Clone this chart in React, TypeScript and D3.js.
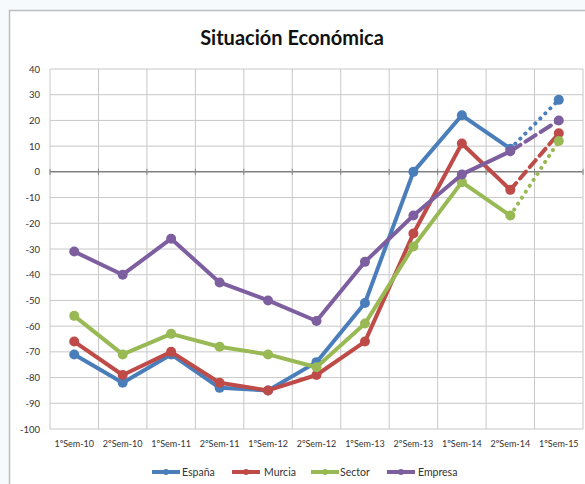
import { useMemo } from "react";
import { scaleBand, scaleLinear, line, range } from "d3";

const categories = [
  "1ºSem-10", "2ºSem-10", "1ºSem-11", "2ºSem-11", "1ºSem-12", "2ºSem-12",
  "1ºSem-13", "2ºSem-13", "1ºSem-14", "2ºSem-14", "1ºSem-15",
];

const espana = [-71, -82, -71, -84, -85, -74, -51, 0, 22, 9, 28];
const murcia = [-66, -79, -70, -82, -85, -79, -66, -24, 11, -7, 15];
const sector = [-56, -71, -63, -68, -71, -76, -59, -29, -4, -17, 12];
const empresa = [-31, -40, -26, -43, -50, -58, -35, -17, -1, 8, 20];

const yTicks = [40, 30, 20, 10, 0, -10, -20, -30, -40, -50, -60, -70, -80, -90, -100];

const series = [
  { name: "España", values: espana, color: "#4A7EBB", dash: "0.1 7" },
  { name: "Murcia", values: murcia, color: "#BE4B48", dash: "9 6" },
  { name: "Sector", values: sector, color: "#98B954", dash: "0.1 7" },
  { name: "Empresa", values: empresa, color: "#7D5FA0", dash: "12 6" },
];

const W = 585;
const H = 484;
const left = 50;
const right = 583;
const top = 69;
const bottom = 429;
const font = "Lato, 'Open Sans', 'DejaVu Sans', sans-serif";

export default function App() {
  const x = useMemo(() => scaleBand<string>().domain(categories).range([left, right]), []);
  const y = useMemo(() => scaleLinear().domain([-100, 40]).range([bottom, top]), []);
  const cx = (i: number) => (x(categories[i]) ?? 0) + x.bandwidth() / 2;

  const lineFn = line<number>()
    .x((_, i) => cx(i))
    .y((d) => y(d));

  const last = categories.length - 1;
  const legendItems = [
    { lx: 152, tx: 182 },
    { lx: 232, tx: 264 },
    { lx: 311, tx: 340 },
    { lx: 387, tx: 418 },
  ];

  return (
    <svg
      width={W}
      height={H}
      style={{ position: "fixed", left: 0, top: 0, background: "#f7fafd" }}
    >
      <rect x={9.5} y={10.5} width={W} height={H} fill="#fff" stroke="#bdbdbd" strokeWidth={1.5} />
      <text
        x={292}
        y={45}
        textAnchor="middle"
        fontFamily={font}
        fontWeight="bold"
        fontSize={20}
        fill="#111"
      >
        Situación Económica
      </text>

      {/* horizontal grid */}
      {yTicks.map((t) => (
        <g key={t}>
          <line
            x1={left}
            x2={right}
            y1={y(t)}
            y2={y(t)}
            stroke={t === 0 ? "#808080" : "#c8c8c8"}
            strokeWidth={t === 0 ? 1.5 : 1}
          />
          <text
            x={left - 10}
            y={y(t) + 3.5}
            textAnchor="end"
            fontFamily={font}
            fontSize={9.5}
            fill="#333"
          >
            {t}
          </text>
        </g>
      ))}

      {/* vertical grid */}
      {range(categories.length + 1).map((i) => {
        const vx = i < categories.length ? x(categories[i]) ?? 0 : right;
        return (
          <g key={i}>
            <line x1={vx} x2={vx} y1={top} y2={bottom} stroke="#c8c8c8" strokeWidth={1} />
            <line x1={vx} x2={vx} y1={y(0) - 3} y2={y(0) + 3} stroke="#808080" strokeWidth={1} />
          </g>
        );
      })}

      {categories.map((c, i) => (
        <text
          key={c}
          x={cx(i)}
          y={447}
          textAnchor="middle"
          fontFamily={font}
          fontSize={9}
          fill="#333"
        >
          {c}
        </text>
      ))}

      {series.map((s) => (
        <g key={s.name}>
          <path
            d={lineFn(s.values.slice(0, last)) ?? ""}
            fill="none"
            stroke={s.color}
            strokeWidth={4}
            strokeLinejoin="round"
          />
          <line
            x1={cx(last - 1)}
            y1={y(s.values[last - 1])}
            x2={cx(last)}
            y2={y(s.values[last])}
            stroke={s.color}
            strokeWidth={4}
            strokeDasharray={s.dash}
            strokeLinecap="round"
          />
          {s.values.map((v, i) => (
            <circle key={i} cx={cx(i)} cy={y(v)} r={5} fill={s.color} />
          ))}
        </g>
      ))}

      {series.map((s, k) => {
        const it = legendItems[k];
        return (
          <g key={s.name}>
            <line x1={it.lx} x2={it.lx + 28} y1={472} y2={472} stroke={s.color} strokeWidth={4} />
            <circle cx={it.lx + 14} cy={472} r={3} fill={s.color} />
            <text x={it.tx} y={475.5} fontFamily={font} fontSize={10.5} fill="#333">
              {s.name}
            </text>
          </g>
        );
      })}
    </svg>
  );
}
